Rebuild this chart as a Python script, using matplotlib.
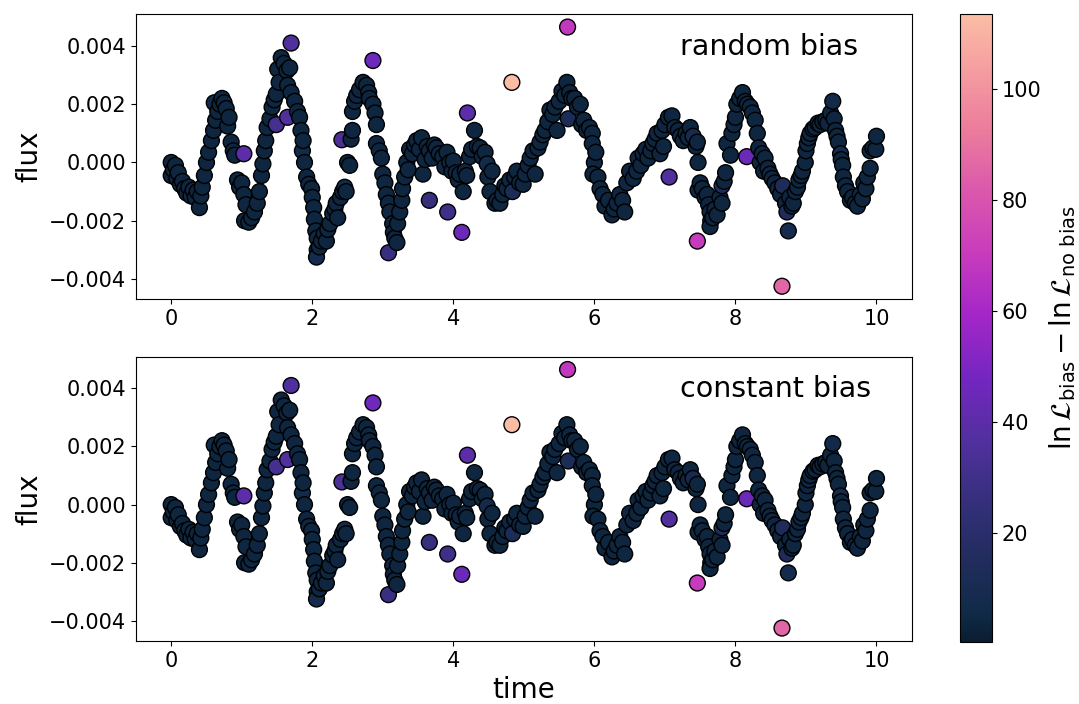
import numpy as np
import matplotlib
matplotlib.use("Agg")
import matplotlib.pyplot as plt
from matplotlib.colors import LinearSegmentedColormap, Normalize

# light-curve samples: time, flux (in units of 1e-3) and log-likelihood gain
time = [
    0.00, 0.00, 0.03, 0.06, 0.08, 0.10, 0.13, 0.16, 0.19, 0.22, 0.25, 0.28, 0.31, 0.34, 0.37, 0.40,
    0.42, 0.44, 0.47, 0.50, 0.53, 0.57, 0.60, 0.63, 0.61, 0.66, 0.69, 0.72, 0.75, 0.78, 0.80, 0.82,
    0.85, 0.88, 0.90, 0.94, 0.97, 1.00, 1.03, 1.03, 1.06, 1.04, 1.10, 1.14, 1.18, 1.22, 1.25, 1.28,
    1.30, 1.32, 1.34, 1.36, 1.40, 1.43, 1.46, 1.49, 1.49, 1.51, 1.53, 1.56, 1.60, 1.64, 1.68, 1.65,
    1.65, 1.70, 1.70, 1.75, 1.79, 1.82, 1.84, 1.86, 1.87, 1.89, 1.92, 1.95, 1.99, 2.00, 2.02, 2.03,
    2.05, 2.07, 2.07, 2.06, 2.10, 2.13, 2.17, 2.20, 2.22, 2.25, 2.29, 2.32, 2.34, 2.36, 2.40, 2.42,
    2.43, 2.46, 2.48, 2.50, 2.53, 2.55, 2.57, 2.57, 2.60, 2.63, 2.67, 2.72, 2.77, 2.80, 2.81, 2.86,
    2.86, 2.89, 2.91, 2.91, 2.95, 2.98, 3.00, 3.03, 3.05, 3.08, 3.08, 3.10, 3.14, 3.15, 3.17, 3.20,
    3.21, 3.24, 3.27, 3.28, 3.31, 3.34, 3.36, 3.38, 3.42, 3.45, 3.48, 3.52, 3.55, 3.57, 3.60, 3.63,
    3.66, 3.66, 3.70, 3.73, 3.76, 3.80, 3.85, 3.88, 3.91, 3.92, 3.95, 3.98, 4.00, 4.04, 4.07, 4.09,
    4.12, 4.14, 4.17, 4.19, 4.20, 4.23, 4.26, 4.30, 4.34, 4.38, 4.41, 4.45, 4.48, 4.49, 4.52, 4.55,
    4.59, 4.62, 4.66, 4.70, 4.73, 4.76, 4.80, 4.83, 4.84, 4.87, 4.90, 4.94, 4.99, 5.02, 5.06, 5.09,
    5.13, 5.16, 5.20, 5.23, 5.27, 5.30, 5.34, 5.37, 5.41, 5.44, 5.47, 5.50, 5.54, 5.58, 5.61, 5.62,
    5.63, 5.65, 5.68, 5.72, 5.76, 5.80, 5.82, 5.85, 5.89, 5.93, 5.97, 5.97, 6.00, 5.98, 6.02, 6.05,
    6.08, 6.12, 6.15, 6.20, 6.25, 6.28, 6.32, 6.36, 6.40, 6.43, 6.46, 6.50, 6.55, 6.60, 6.62, 6.66,
    6.69, 6.73, 6.76, 6.80, 6.83, 6.86, 6.89, 6.93, 6.96, 6.98, 7.00, 7.05, 7.06, 7.10, 7.14, 7.19,
    7.22, 7.26, 7.30, 7.33, 7.36, 7.40, 7.44, 7.46, 7.46, 7.47, 7.47, 7.50, 7.53, 7.57, 7.60, 7.62,
    7.64, 7.65, 7.64, 7.68, 7.71, 7.74, 7.78, 7.81, 7.81, 7.84, 7.86, 7.88, 7.93, 7.95, 7.98, 8.00,
    8.02, 8.06, 8.10, 8.14, 8.16, 8.17, 8.21, 8.24, 8.28, 8.31, 8.33, 8.35, 8.38, 8.40, 8.42, 8.46,
    8.49, 8.52, 8.56, 8.60, 8.64, 8.66, 8.67, 8.71, 8.73, 8.75, 8.77, 8.80, 8.82, 8.85, 8.88, 8.90,
    8.93, 8.95, 8.99, 9.00, 9.02, 9.04, 9.06, 9.10, 9.13, 9.17, 9.20, 9.24, 9.28, 9.31, 9.35, 9.38,
    9.40, 9.42, 9.44, 9.46, 9.49, 9.50, 9.52, 9.53, 9.56, 9.59, 9.63, 9.66, 9.70, 9.73, 9.77, 9.80,
    9.82, 9.85, 9.87, 9.91, 9.91, 9.95, 9.99, 10.00,
]

flux_e3 = [
    0.00, -0.45, -0.25, -0.10, -0.55, -0.35, -0.75, -0.65, -0.90, -1.05, -0.85, -1.15, -0.95, -1.20, -1.00, -1.55,
    -1.15, -0.85, -0.45, 0.00, 0.35, 0.75, 1.10, 1.45, 2.05, 1.75, 2.00, 2.20, 2.05, 1.85, 1.25, 1.55,
    0.70, 0.40, 0.25, -0.60, -0.85, -0.70, -1.10, 0.30, -1.45, -2.00, -2.05, -1.90, -1.70, -1.40, -1.00, -0.45,
    -0.05, 0.40, 0.75, 1.20, 1.50, 1.90, 2.15, 2.35, 1.30, 3.20, 2.75, 3.60, 3.40, 3.15, 3.25, 2.65,
    1.55, 2.40, 4.10, 2.10, 1.75, 1.55, 1.10, 0.40, 0.75, 0.00, -0.50, -0.75, -0.90, -1.20, -1.55, -1.95,
    -2.35, -2.60, -3.00, -3.25, -2.90, -2.70, -2.45, -2.70, -2.30, -2.10, -1.75, -1.60, -1.40, -1.90, -1.20, 0.78,
    -1.00, -0.85, -1.00, 0.00, -0.10, 0.80, 1.10, 1.75, 2.10, 2.30, 2.50, 2.75, 2.65, 2.40, 2.20, 2.00,
    3.50, 1.70, 1.30, 0.65, 0.40, 0.15, -0.40, -0.70, -1.10, -1.40, -3.10, -1.70, -2.10, -2.40, -2.60, -2.75,
    -2.10, -1.70, -1.30, -0.90, -0.50, 0.00, -0.25, 0.45, 0.30, 0.60, 0.75, 0.45, 0.85, -0.40, 0.10, 0.55,
    0.40, -1.30, 0.15, 0.60, 0.50, 0.30, 0.20, -0.15, 0.35, -1.70, 0.00, -0.30, 0.05, -0.35, -0.60, -0.40,
    -2.40, -1.00, -0.30, -0.45, 1.70, 0.20, 0.45, 1.10, 0.55, 0.50, 0.20, 0.35, -0.05, -0.50, -1.00, -0.30,
    -1.40, -1.30, -1.40, -1.10, -0.80, -0.90, -0.60, 2.75, -1.00, -0.50, -0.30, -0.70, -0.75, -0.40, -0.10, 0.15,
    0.40, -0.40, 0.50, 0.70, 0.95, 1.10, 1.40, 1.80, 1.65, 1.90, 1.10, 2.10, 2.45, 2.30, 2.75, 4.65,
    1.50, 2.40, 2.20, 2.20, 1.90, 2.00, 1.30, 1.45, 1.10, 1.20, 1.00, 0.65, 0.00, -0.40, 0.35, -0.50,
    -0.90, -1.10, -1.50, -1.30, -1.80, -1.60, -1.40, -1.10, -1.30, -1.70, -0.70, -0.30, -0.55, -0.30, 0.15, -0.10,
    0.30, 0.45, 0.15, 0.40, 0.65, 0.80, 1.00, 0.30, 1.10, 0.55, 1.30, 1.55, -0.50, 1.60, 1.20, 1.10,
    0.90, 0.75, 1.00, 0.85, 1.20, 0.90, 0.55, 0.70, -2.70, 0.00, -0.95, -0.70, -0.90, -1.20, -1.10, -1.45,
    -1.70, -2.00, -2.20, -1.90, -1.60, -1.80, -1.20, -1.40, -0.80, -0.65, -0.35, 0.65, 0.25, 1.00, 1.30, 1.55,
    2.00, 2.20, 2.40, 2.10, 0.20, 2.00, 1.90, 1.70, 1.45, 1.00, 0.50, 0.00, 0.30, -0.30, 0.15, -0.20,
    -0.40, -0.55, -0.70, -0.90, -1.10, -4.25, -0.80, -1.40, -1.70, -2.35, -1.20, -1.50, -1.40, -1.00, -0.85, -0.60,
    -0.45, -0.30, 0.00, 0.40, 0.65, 0.85, 1.00, 1.15, 1.20, 1.35, 1.30, 1.40, 1.45, 1.35, 1.70, 2.10,
    1.50, 1.10, 0.90, 0.70, 0.30, 0.10, -0.10, -0.50, -0.80, -1.00, -1.30, -1.20, -1.40, -1.50, -1.10, -1.25,
    -0.70, -0.90, -0.50, -0.20, 0.40, 0.50, 0.45, 0.90,
]

dlnl = [
    4, 4, 4, 4, 4, 4, 4, 4, 4, 4, 4, 5, 4, 4, 4, 4,
    4, 4, 4, 4, 4, 4, 4, 4, 7, 4, 4, 4, 4, 4, 4, 4,
    4, 4, 4, 4, 4, 4, 4, 40, 4, 4, 4, 4, 4, 4, 4, 4,
    4, 4, 4, 4, 4, 4, 4, 4, 32, 4, 4, 4, 4, 4, 4, 4,
    36, 4, 36, 4, 4, 4, 4, 7, 4, 4, 4, 4, 4, 4, 4, 4,
    4, 4, 4, 8, 4, 4, 4, 4, 4, 4, 4, 4, 4, 4, 4, 34,
    4, 7, 4, 4, 4, 4, 4, 4, 4, 4, 4, 4, 4, 4, 4, 4,
    46, 4, 4, 4, 4, 4, 4, 4, 4, 4, 27, 4, 4, 4, 4, 4,
    4, 4, 4, 4, 4, 4, 4, 4, 4, 4, 4, 4, 4, 4, 4, 4,
    4, 26, 4, 4, 4, 4, 4, 4, 4, 30, 4, 4, 4, 4, 4, 4,
    45, 4, 4, 4, 40, 4, 4, 4, 4, 4, 4, 4, 7, 4, 4, 4,
    4, 4, 4, 4, 4, 4, 4, 113, 12, 4, 4, 4, 4, 4, 4, 4,
    4, 4, 4, 4, 4, 4, 4, 4, 4, 4, 4, 4, 4, 4, 4, 68,
    12, 4, 4, 4, 4, 4, 4, 4, 4, 4, 4, 4, 4, 4, 4, 4,
    4, 4, 4, 4, 4, 4, 4, 4, 4, 4, 4, 4, 4, 4, 4, 4,
    4, 4, 4, 4, 4, 4, 4, 4, 4, 4, 4, 4, 36, 4, 4, 4,
    4, 4, 4, 4, 4, 10, 4, 4, 70, 4, 4, 4, 4, 4, 4, 4,
    4, 4, 4, 4, 4, 4, 4, 4, 14, 4, 4, 4, 4, 4, 4, 4,
    4, 4, 4, 4, 45, 4, 4, 4, 4, 4, 4, 4, 4, 4, 4, 4,
    4, 4, 4, 4, 4, 86, 14, 4, 14, 8, 4, 4, 4, 4, 4, 4,
    4, 4, 4, 4, 4, 4, 4, 4, 4, 4, 4, 4, 4, 4, 4, 6,
    4, 4, 4, 4, 8, 4, 4, 4, 4, 4, 4, 4, 4, 4, 4, 4,
    4, 4, 4, 4, 4, 4, 4, 4,
]

panel_titles = ["random bias", "constant bias"]
cbar_ticks = [20, 40, 60, 80, 100]
cbar_range = (0.4, 113.5)

cmap = LinearSegmentedColormap.from_list(
    "lnl",
    [(0.00, "#0a1e31"), (0.05, "#112b49"), (0.12, "#1f2c5a"), (0.20, "#2f2f74"),
     (0.32, "#51309e"), (0.42, "#7426c0"), (0.52, "#a326c8"), (0.62, "#c83cbc"),
     (0.72, "#db58ac"), (0.82, "#ec7d9c"), (0.91, "#f59ca0"), (1.00, "#fbbda6")],
)
norm = Normalize(*cbar_range)

t = np.array(time)
f = np.array(flux_e3) * 1e-3
c = np.array(dlnl, dtype=float)

fig = plt.figure(figsize=(10.79, 7.04), dpi=100)
ax1 = fig.add_axes([0.126, 0.575, 0.719, 0.405])
ax2 = fig.add_axes([0.126, 0.0895, 0.719, 0.404])
cax = fig.add_axes([0.8897, 0.088, 0.0297, 0.892])

for ax, title in zip([ax1, ax2], panel_titles):
    sc = ax.scatter(t, f, c=c, cmap=cmap, norm=norm, s=130,
                    edgecolors="black", linewidths=1.0)
    ax.set_ylabel("flux", fontsize=20)
    ax.tick_params(labelsize=15)
    ax.set_yticks([-0.004, -0.002, 0.0, 0.002, 0.004])
    ax.set_xticks([0, 2, 4, 6, 8, 10])
    ax.text(0.701, 0.885, title, transform=ax.transAxes, fontsize=20.5,
            ha="left", va="center")

ax2.set_xlabel("time", fontsize=20)

cb = fig.colorbar(sc, cax=cax)
cb.set_ticks(cbar_ticks)
cb.ax.tick_params(labelsize=15)
cb.set_label(r"$\ln\mathcal{L}_{\rm bias} - \ln\mathcal{L}_{\rm no\ bias}$", fontsize=20, labelpad=4)

fig.savefig("out.png", dpi=100)
